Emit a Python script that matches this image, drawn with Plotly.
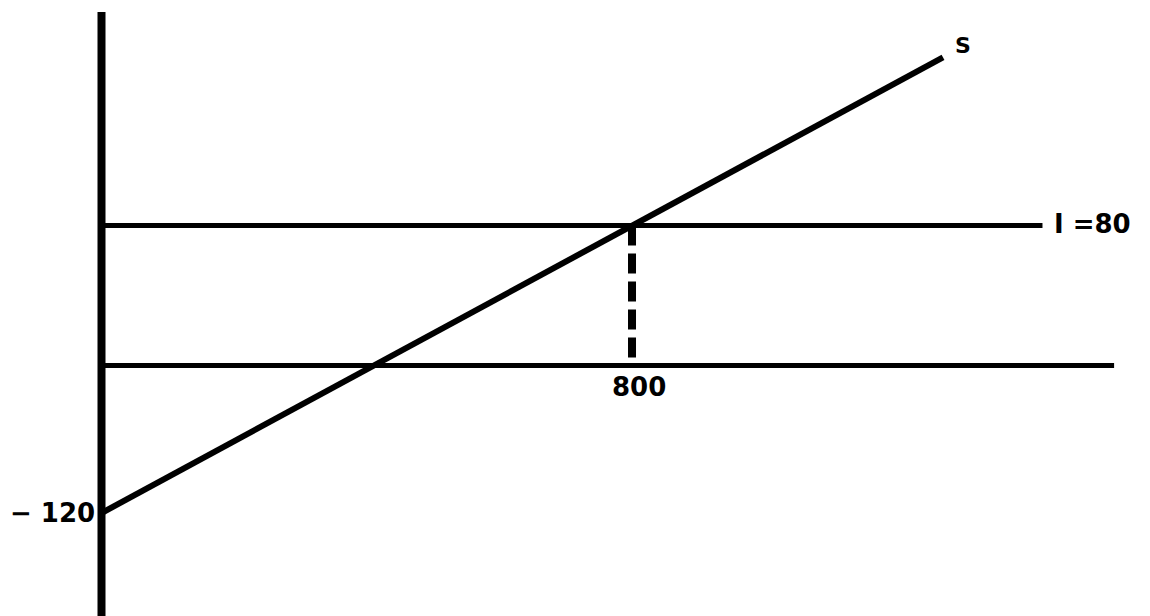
import plotly.graph_objects as go

# Economic values shown in the diagram
savings_intercept = -120      # S at zero income
investment = 80               # I = 80
equilibrium_income = 800      # Y where S = I

# Saving function S (income, saving) -- schematic line through the labelled points
s_income = [0, 800, 1269]
s_saving = [-120, 80, 197]

# Investment line I
i_income = [0, 1419]
i_level = [80, 80]

# Horizontal (income) axis as drawn, and vertical axis
base_level = -17.4
h_axis_income = [0, 1527]
v_axis_top = 228.5
v_axis_bottom = -220

# Labels
lbl_intercept = "\u2212 120"
lbl_income = "800"
lbl_invest = "I =80"
lbl_s = "S"

BLACK = "#000000"
FONT = dict(family="DejaVu Sans, Verdana, sans-serif", size=26, color=BLACK, weight="bold")

fig = go.Figure()

# vertical axis
fig.add_trace(go.Scatter(x=[0, 0], y=[v_axis_top, v_axis_bottom], mode="lines",
                         line=dict(color=BLACK, width=8), hoverinfo="skip"))
# horizontal axis
fig.add_trace(go.Scatter(x=h_axis_income, y=[base_level, base_level], mode="lines",
                         line=dict(color=BLACK, width=5), hoverinfo="skip"))
# investment line
fig.add_trace(go.Scatter(x=i_income, y=i_level, mode="lines",
                         line=dict(color=BLACK, width=5), hoverinfo="skip"))
# dashed drop line at equilibrium income
fig.add_trace(go.Scatter(x=[equilibrium_income, equilibrium_income], y=[investment, base_level],
                         mode="lines", line=dict(color=BLACK, width=8, dash="20px,8px"),
                         hoverinfo="skip"))
# saving line
fig.add_trace(go.Scatter(x=s_income, y=s_saving, mode="lines",
                         line=dict(color=BLACK, width=6), hoverinfo="skip"))

fig.add_annotation(x=0, y=savings_intercept, text=lbl_intercept, showarrow=False,
                   xanchor="right", yanchor="middle", xshift=-5, font=FONT)
fig.add_annotation(x=equilibrium_income, y=base_level, text=lbl_income, showarrow=False,
                   xanchor="center", yanchor="top", xshift=7, yshift=-4, font=FONT)
fig.add_annotation(x=i_income[-1], y=investment, text=lbl_invest, showarrow=False,
                   xanchor="left", yanchor="middle", xshift=10, yshift=2, font=FONT)
fig.add_annotation(x=s_income[-1], y=s_saving[-1], text=lbl_s, showarrow=False,
                   xanchor="left", yanchor="middle", xshift=10, yshift=12,
                   font=dict(FONT, size=22))

fig.update_layout(
    width=1150, height=616,
    margin=dict(l=0, r=0, t=0, b=0),
    paper_bgcolor="white", plot_bgcolor="white",
    showlegend=False,
    xaxis=dict(visible=False, range=[-141.0, 1593.2], fixedrange=True),
    yaxis=dict(visible=False, range=[-197.2, 231.3], fixedrange=True),
)

fig.write_html("out.html")
